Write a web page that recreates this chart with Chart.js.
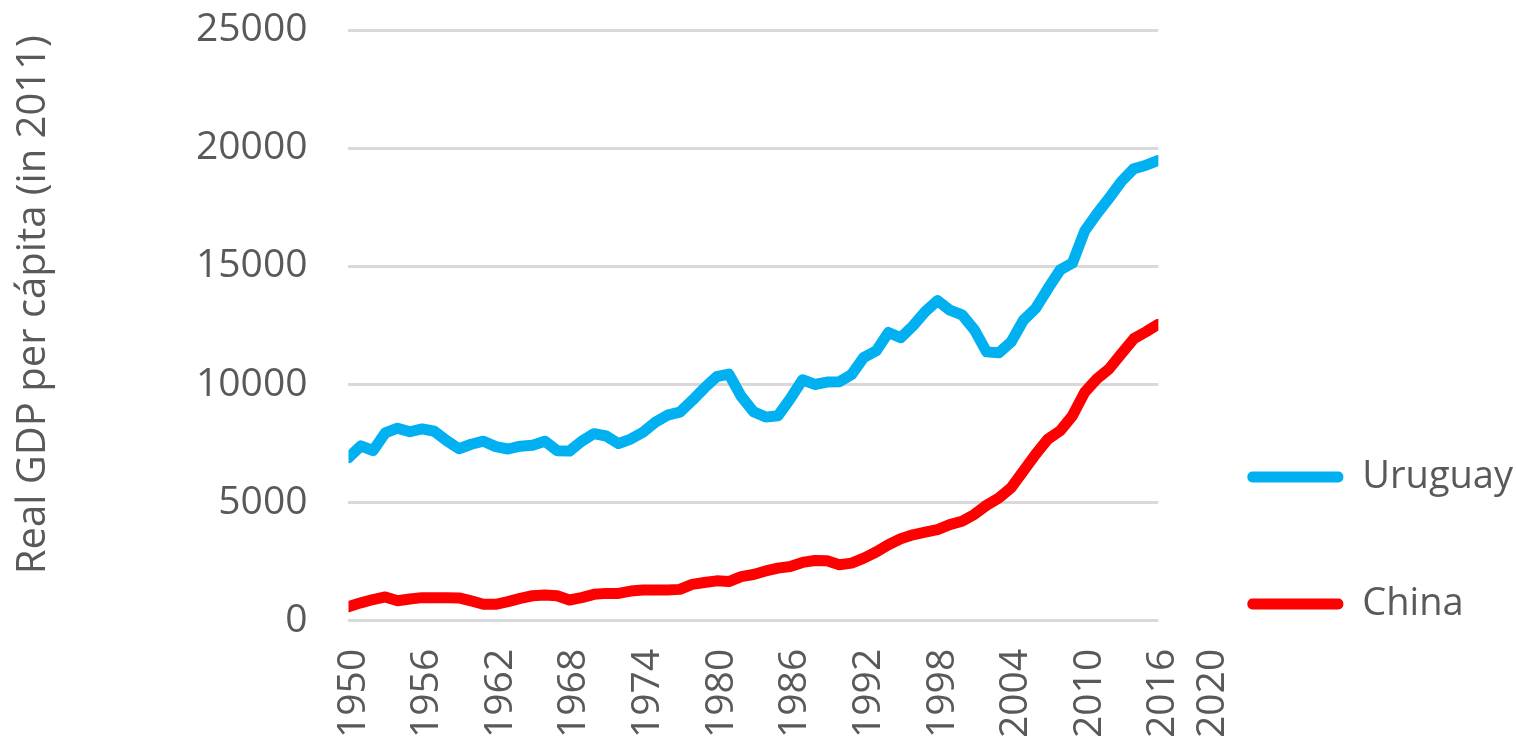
<!DOCTYPE html>
<html>
<head>
<meta charset="utf-8">
<script src="https://cdn.jsdelivr.net/npm/chart.js@4.4.1/dist/chart.umd.min.js"></script>
<style>
  html, body { margin: 0; padding: 0; background: #ffffff; }
  #wrap { position: relative; width: 1516px; height: 741px; }
</style>
</head>
<body>
<div id="wrap"><canvas id="c"></canvas></div>
<script>
const years = [];
for (let y = 1950; y <= 2016; y++) years.push(y);

const uruguay = [
  6900, 7400, 7200, 7950, 8150, 8000, 8120, 8020, 7620, 7280,
  7470, 7600, 7370, 7270, 7390, 7430, 7600, 7200, 7180, 7600,
  7920, 7820, 7500, 7690, 7980, 8400, 8700, 8830, 9320, 9850,
  10330, 10440, 9500, 8850, 8620, 8680, 9400, 10200, 10000, 10100,
  10120, 10420, 11150, 11420, 12200, 11980, 12480, 13080, 13550, 13150,
  12950, 12320, 11380, 11340, 11800, 12720, 13220, 14060, 14850, 15140,
  16500, 17230, 17900, 18600, 19130, 19280, 19480
];

const china = [
  600, 760, 900, 1010, 850, 920, 980, 980, 980, 970,
  840, 700, 700, 810, 950, 1060, 1090, 1060, 880, 980,
  1120, 1160, 1160, 1260, 1300, 1300, 1300, 1330, 1540, 1620,
  1690, 1660, 1870, 1960, 2110, 2230, 2300, 2470, 2550, 2540,
  2370, 2440, 2650, 2910, 3220, 3470, 3640, 3750, 3860, 4070,
  4210, 4500, 4890, 5200, 5630, 6340, 7050, 7690, 8040, 8680,
  9670, 10240, 10670, 11310, 11940, 12230, 12550
];

const xTickLabels = [1950, 1956, 1962, 1968, 1974, 1980, 1986, 1992, 1998, 2004, 2010, 2016, 2020];
const yTickLabels = [0, 5000, 10000, 15000, 20000, 25000];

const seriesNames = ['Uruguay', 'China'];
const seriesColors = ['#00B0F0', '#FF0000'];
const yTitle = 'Real GDP per cápita (in 2011)';

const textColor = '#595959';
const fontFamily = '"Open Sans", "Noto Sans", sans-serif';

const toPoints = arr => arr.map((v, i) => ({ x: years[i], y: v }));

new Chart(document.getElementById('c'), {
  type: 'line',
  data: {
    datasets: [
      {
        label: seriesNames[0],
        data: toPoints(uruguay),
        borderColor: seriesColors[0],
        backgroundColor: seriesColors[0],
        borderWidth: 11,
        pointRadius: 0,
        tension: 0,
        borderJoinStyle: 'round',
        borderCapStyle: 'round',
        fill: false
      },
      {
        label: seriesNames[1],
        data: toPoints(china),
        borderColor: seriesColors[1],
        backgroundColor: seriesColors[1],
        borderWidth: 11,
        pointRadius: 0,
        tension: 0,
        borderJoinStyle: 'round',
        borderCapStyle: 'round',
        fill: false
      }
    ]
  },
  options: {
    responsive: true,
    maintainAspectRatio: false,
    animation: false,
    devicePixelRatio: 1,
    layout: { padding: { top: 30, right: -7, bottom: 2, left: 0 } },
    plugins: {
      tooltip: { enabled: false },
      legend: {
        display: true,
        position: 'right',
        align: 'start',
        title: {
          display: true,
          text: ' ',
          font: { size: 10, family: fontFamily },
          padding: { top: 327, bottom: 0 }
        },
        labels: {
          boxWidth: 96,
          boxHeight: 11,
          padding: 89,
          color: textColor,
          font: { size: 38, family: fontFamily },
          useBorderRadius: true,
          borderRadius: 5,
          generateLabels: chart => {
            const items = Chart.defaults.plugins.legend.labels.generateLabels(chart);
            return items.map((it, i) => Object.assign(it, {
              fillStyle: seriesColors[i],
              strokeStyle: seriesColors[i],
              lineWidth: 0,
              borderRadius: 5
            }));
          }
        }
      }
    },
    scales: {
      x: {
        type: 'linear',
        min: years[0],
        max: years[years.length - 1],
        afterBuildTicks: scale => {
          scale.ticks = xTickLabels.map(v => ({ value: v }));
        },
        grid: {
          display: true,
          drawOnChartArea: false,
          drawTicks: true,
          tickLength: 27,
          color: 'rgba(0,0,0,0)',
          tickColor: 'rgba(0,0,0,0)'
        },
        border: { display: false },
        ticks: {
          autoSkip: false,
          maxRotation: 90,
          minRotation: 90,
          padding: 1,
          labelOffset: 5,
          color: textColor,
          font: { size: 39, family: fontFamily },
          callback: v => String(v)
        }
      },
      y: {
        min: 0,
        max: 25000,
        afterBuildTicks: scale => {
          scale.ticks = yTickLabels.map(v => ({ value: v }));
        },
        grid: {
          color: '#d9d9d9',
          lineWidth: 3,
          drawTicks: true,
          tickLength: 40,
          tickColor: 'rgba(0,0,0,0)'
        },
        border: { display: false },
        ticks: {
          padding: 1,
          color: textColor,
          font: { size: 39, family: fontFamily },
          callback: v => String(v)
        },
        title: {
          display: true,
          text: '    ' + yTitle,
          color: textColor,
          font: { size: 40, family: fontFamily },
          padding: { top: 10, bottom: 137 }
        }
      }
    }
  }
});
</script>
</body>
</html>
